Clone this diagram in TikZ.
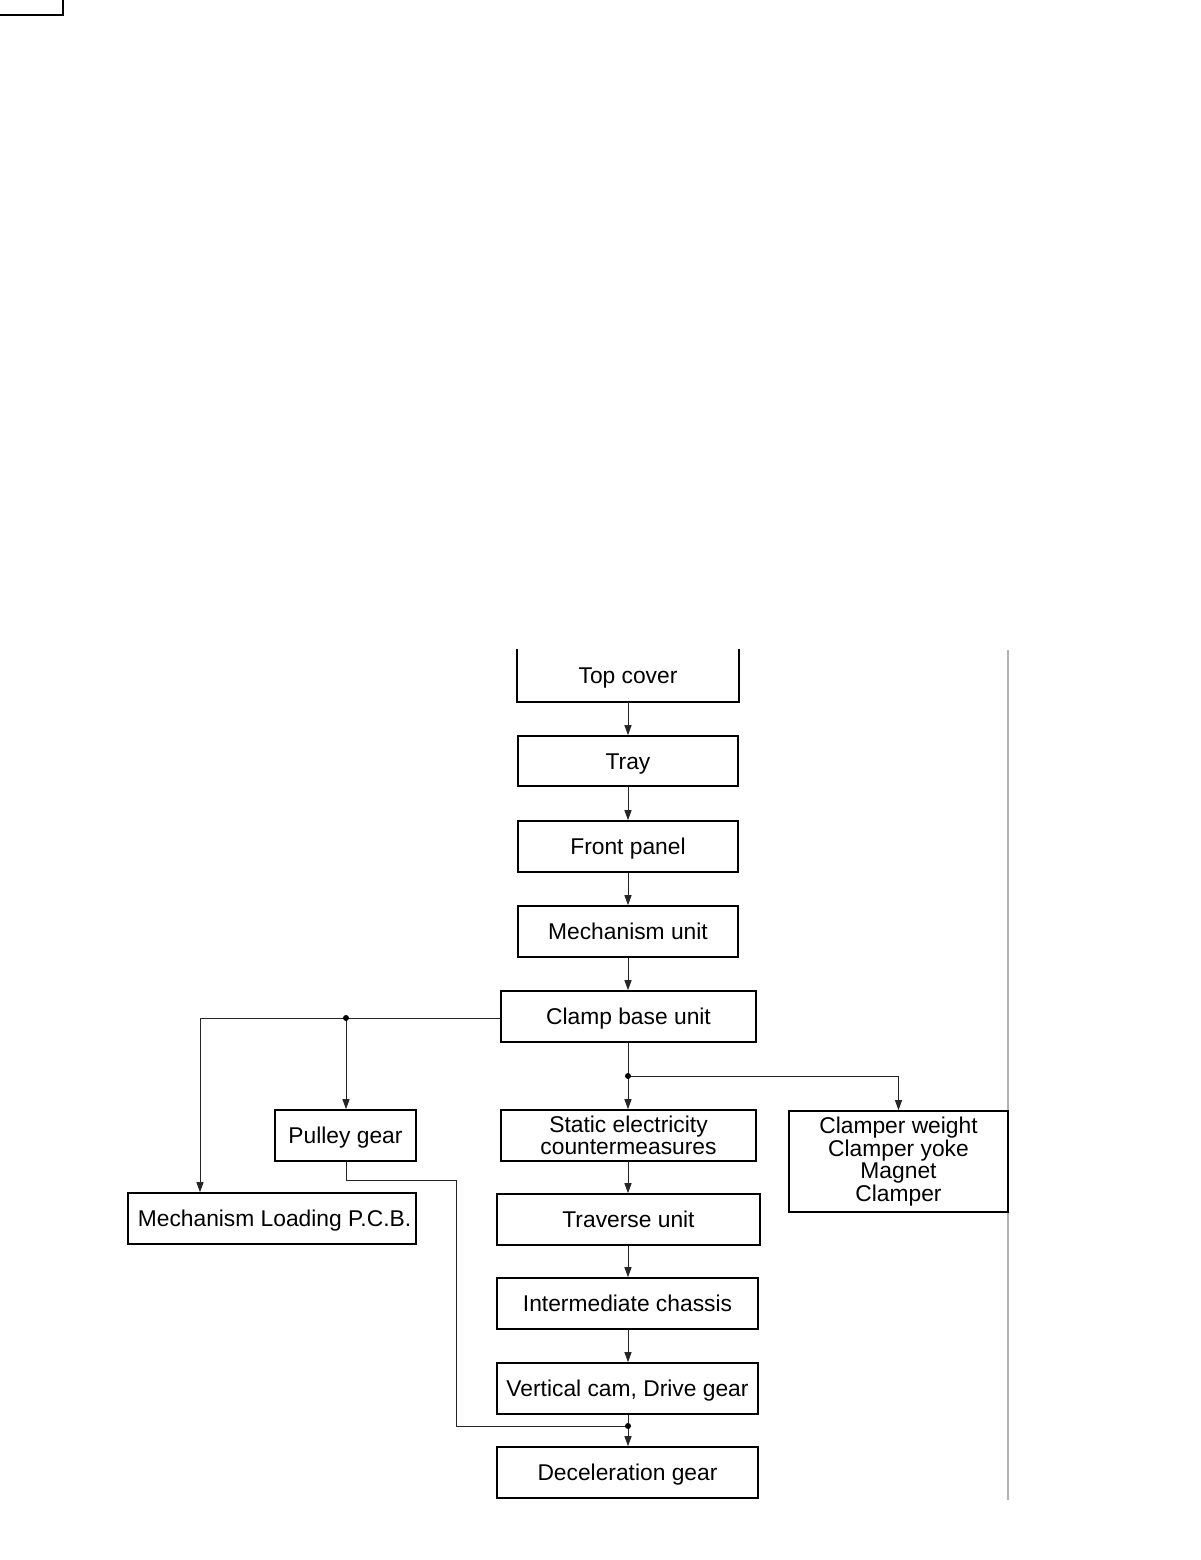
\documentclass[tikz,border=0pt]{standalone}
\usepackage{fontspec}
\setmainfont{Liberation Sans}
\usetikzlibrary{arrows.meta}
\begin{document}
\begin{tikzpicture}[x=1pt,y=-1pt,
  box/.style={draw=black,line width=1.6pt,inner sep=0pt,align=center,
    font=\fontsize{22.8pt}{22.4pt}\selectfont},
  one/.style={box,text height=16.4pt,text depth=0pt},
  conn/.style={draw=black!85,line width=1pt},
  arr/.style={conn,-{Triangle[length=10pt,width=7pt]}},
  dot/.style={circle,fill=black,inner sep=0pt,minimum size=6pt}]
\useasboundingbox (0,0) rectangle (1200,1560);
% top-left corner mark
\draw[line width=1.5pt] (0,15) -- (63,15) -- (63,0);
% right grey rule
\draw[black!30,line width=1.2pt] (1008,650) -- (1008,1500);
% boxes
\node[one,draw=none,minimum width=220pt,minimum height=51pt] (top) at (628,675.5) {Top cover};
\draw[line width=1.6pt] (top.north west) -- (top.south west) -- (top.south east) -- (top.north east);
\node[one,minimum width=220pt,minimum height=50pt] (tray) at (628,761) {Tray};
\node[one,minimum width=220pt,minimum height=51pt] (front) at (628,846.5) {Front panel};
\node[one,minimum width=220pt,minimum height=51pt] (mech) at (628,931.5) {Mechanism unit};
\node[one,minimum width=255pt,minimum height=51pt] (clamp) at (628.5,1016.5) {Clamp base unit};
\node[one,minimum width=141pt,minimum height=51pt] (pulley) at (345.5,1135.5) {Pulley gear};
\node[box,minimum width=255pt,minimum height=51pt] (static) at (628.5,1135.5) {Static electricity\\countermeasures};
\node[box,minimum width=219pt,minimum height=101pt] (clamper) at (898.5,1161.5) {Clamper weight\\Clamper yoke\\Magnet\\Clamper};
\node[one,minimum width=288pt,minimum height=51pt] (pcb) at (272,1218.5) {\hspace*{5pt}Mechanism Loading P.C.B.};
\node[one,minimum width=263pt,minimum height=51pt] (trav) at (628.5,1219.5) {Traverse unit};
\node[one,minimum width=261pt,minimum height=51pt] (inter) at (627.5,1303.5) {Intermediate chassis};
\node[one,minimum width=261pt,minimum height=51pt] (vcam) at (627.5,1388.5) {Vertical cam, Drive gear};
\node[one,minimum width=261pt,minimum height=51pt] (decel) at (627.5,1472.5) {Deceleration gear};
% coordinates
\coordinate (jL) at (346,1018);
\coordinate (cL) at (200,1018);
\coordinate (jR) at (628,1076);
\coordinate (p1) at (346,1180);
\coordinate (p2) at (456,1180);
\coordinate (p3) at (456,1426);
\coordinate (jB) at (628,1426);
% main chain
\draw[arr] (top.south -| 628,0) -- (tray.north -| 628,0);
\draw[arr] (tray.south -| 628,0) -- (front.north -| 628,0);
\draw[arr] (front.south -| 628,0) -- (mech.north -| 628,0);
\draw[arr] (mech.south -| 628,0) -- (clamp.north -| 628,0);
\draw[arr] (clamp.south -| 628,0) -- (static.north -| 628,0);
\draw[arr] (jR) -| (clamper.north);
\draw[arr] (static.south -| 628,0) -- (trav.north -| 628,0);
\draw[arr] (trav.south -| 628,0) -- (inter.north -| 628,0);
\draw[arr] (inter.south -| 628,0) -- (vcam.north -| 628,0);
\draw[arr] (vcam.south -| 628,0) -- (decel.north -| 628,0);
% left branch
\draw[conn] (clamp.west |- jL) -- (cL);
\draw[arr] (cL) -- (pcb.north -| cL);
\draw[arr] (jL) -- (pulley.north -| jL);
% pulley to decel
\draw[conn] (pulley.south -| p1) -- (p1) -- (p2) -- (p3) -- (jB);
% dots
\node[dot] at (jL) {};
\node[dot] at (jR) {};
\node[dot] at (jB) {};
\end{tikzpicture}
\end{document}
